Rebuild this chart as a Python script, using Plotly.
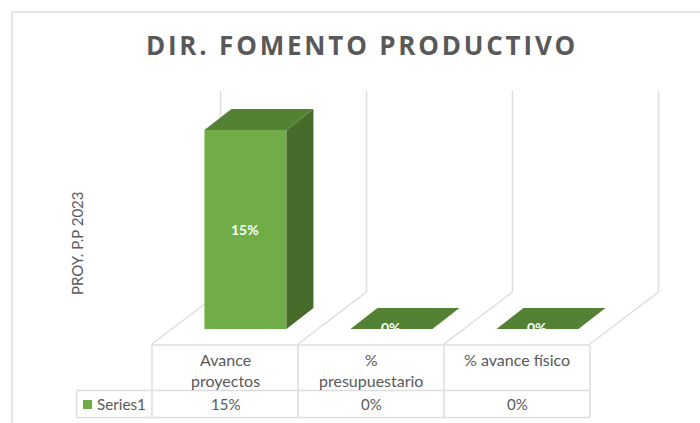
import plotly.graph_objects as go

categories = ["Avance<br>proyectos", "%<br>presupuestario", "% avance físico"]
values = [0.15, 0.0, 0.0]
series_name = "Series1"
title_text = "DIR. FOMENTO PRODUCTIVO"
axis_label = "PROY. P.P 2023"

W, H = 700, 423
CAT_PX, X0_PX, Y0_PX = 146.0, 152.0, 329.0
PX_PER_VAL = 199.0 / 0.15
GREEN, TOP, SIDE, GRID, TXT = "#70AD47", "#548235", "#466B2A", "#DDDDDD", "#595959"

ux = 1 / CAT_PX
uy = 1 / PX_PER_VAL
bar_off, bar_w = 0.64, 82 * ux
dx, dy = 27 * ux, 21 * uy
n = len(values)
px = lambda p: p / W
py = lambda p: 1 - p / H

fig = go.Figure()

# bars: front face, side and top
xs = [i + bar_off for i in range(n)]
fig.add_trace(go.Bar(x=xs, y=values, width=bar_w, marker=dict(color=GREEN, line_width=0),
                     name=series_name, showlegend=False))
for x, v in zip(xs, values):
    l, r = x - bar_w / 2, x + bar_w / 2
    if v > 0:
        fig.add_trace(go.Scatter(x=[r, r + dx, r + dx, r, r], y=[0, dy, v + dy, v, 0], fill="toself",
                                 fillcolor=SIDE, mode="none", hoverinfo="skip", showlegend=False))
    fig.add_trace(go.Scatter(x=[l, r, r + dx, l + dx, l], y=[v, v, v + dy, v + dy, v], fill="toself",
                             fillcolor=TOP, mode="none", hoverinfo="skip", showlegend=False))

# legend key in the data table
fig.add_trace(go.Scatter(x=[(87.5 - X0_PX) * ux], y=[(Y0_PX - 404.5) * uy], mode="markers",
                         marker=dict(symbol="square", size=9, color=GREEN),
                         hoverinfo="skip", showlegend=False))

annotations = []
for x, v in zip(xs, values):
    annotations.append(dict(x=x, y=v / 2, xref="x", yref="y", text=f"<b>{v:.0%}</b>", showarrow=False,
                            yshift=1.5 if v == 0 else 0, font=dict(family="Lato", size=14, color="white")))
for i, (c, v) in enumerate(zip(categories, values)):
    annotations.append(dict(x=i + 0.5, y=py(347.5), xref="x", yref="paper", yanchor="top", xanchor="center",
                            text=c, showarrow=False, align="center",
                            font=dict(family="Lato", size=16, color=TXT)))
    annotations.append(dict(x=i + 0.5, y=py(404), xref="x", yref="paper", yanchor="middle", xanchor="center",
                            text=f"{v:.0%}", showarrow=False, font=dict(family="Lato", size=15, color=TXT)))
annotations.append(dict(x=px(95), y=py(404), xref="paper", yref="paper", xanchor="left", yanchor="middle",
                        text=series_name, showarrow=False, font=dict(family="Lato", size=15.2, color=TXT)))
annotations.append(dict(x=px(77), y=py(243), xref="paper", yref="paper", xanchor="center", yanchor="middle",
                        text=axis_label, textangle=-90, showarrow=False,
                        font=dict(family="Lato", size=15, color=TXT)))

def seg(x0, y0, x1, y1):
    return dict(type="line", xref="paper", yref="paper", x0=px(x0), y0=py(y0), x1=px(x1), y1=py(y1),
                line=dict(color=GRID, width=1.5), layer="below")

shapes = [seg(12, 12, 700, 12), seg(12, 12, 12, 423), seg(152, 345, 590, 345), seg(76.5, 390.5, 590, 390.5),
          seg(76.5, 417.5, 590, 417.5), seg(76.5, 390.5, 76.5, 417.5)]
shapes += [seg(152 + i * CAT_PX, 345, 152 + i * CAT_PX, 417.5) for i in range(n + 1)]

# walls and floor, behind the bars
for i in range(n + 1):
    bx = i + 68.5 * ux
    for x0, y0, x1, y1 in [(i, -15 * uy, bx, 37 * uy), (bx, 37 * uy, bx, 238 * uy)]:
        shapes.append(dict(type="line", xref="x", yref="y", x0=x0, y0=y0, x1=x1, y1=y1,
                           line=dict(color=GRID, width=1.5), layer="below"))

fig.update_layout(
    width=W, height=H, margin=dict(l=0, r=0, t=0, b=0), paper_bgcolor="white", plot_bgcolor="white",
    title=dict(text=f"<b>{title_text}</b>", x=362 / W, xanchor="center", y=py(46), yanchor="middle",
               font=dict(family="Open Sans", size=26, color=TXT)),
    xaxis=dict(visible=False, range=[-X0_PX * ux, (W - X0_PX) * ux]),
    yaxis=dict(visible=False, range=[-(H - Y0_PX) * uy, Y0_PX * uy]),
    annotations=annotations, shapes=shapes, showlegend=False,
)

post = """
document.body.style.margin = '0';
document.querySelectorAll('.gtitle').forEach(function (el) { el.style.letterSpacing = '2.8px'; });
"""
fig.write_html("out.html", post_script=post, config={"displayModeBar": False})
